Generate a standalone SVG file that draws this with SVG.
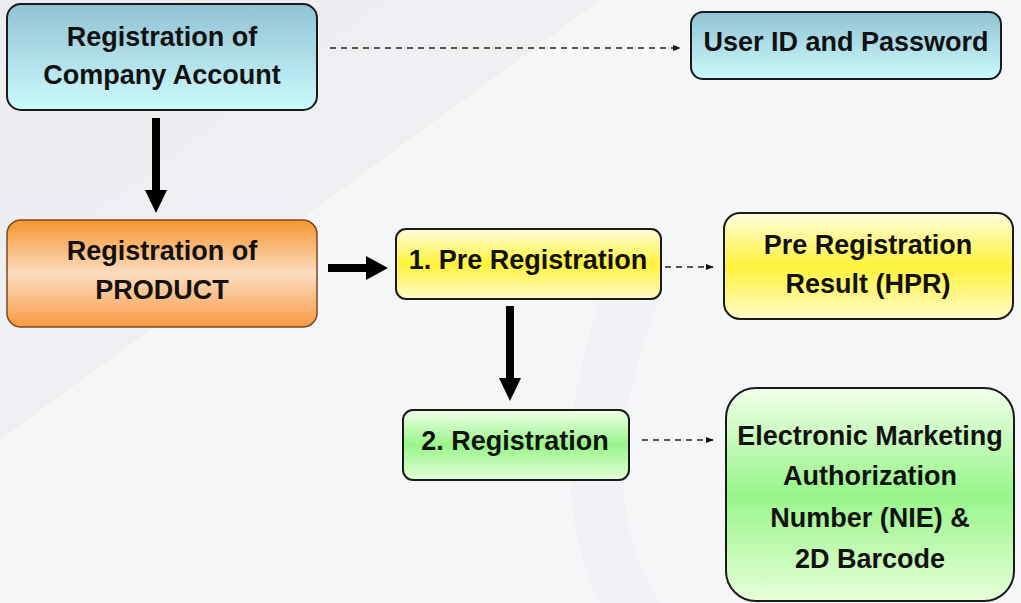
<svg xmlns="http://www.w3.org/2000/svg" width="1021" height="603" viewBox="0 0 1021 603">
<defs>
<linearGradient id="gBlue" x1="0" y1="0" x2="0" y2="1"><stop offset="0" stop-color="#92c2d4"/><stop offset="1" stop-color="#cbfafc"/></linearGradient>
<linearGradient id="gOrange" x1="0" y1="0" x2="0" y2="1"><stop offset="0" stop-color="#f6952e"/><stop offset="0.5" stop-color="#fbdcc0"/><stop offset="1" stop-color="#f89a40"/></linearGradient>
<linearGradient id="gYellow" x1="0" y1="0" x2="0" y2="1"><stop offset="0" stop-color="#fffde0"/><stop offset="0.5" stop-color="#fff23a"/><stop offset="1" stop-color="#fffbc8"/></linearGradient>
<linearGradient id="gGreen" x1="0" y1="0" x2="0" y2="1"><stop offset="0" stop-color="#f2ffea"/><stop offset="0.5" stop-color="#98f58a"/><stop offset="1" stop-color="#e6ffd8"/></linearGradient>
<linearGradient id="gBg" x1="0" y1="0" x2="1" y2="1"><stop offset="0" stop-color="#e2e4e7"/><stop offset="1" stop-color="#eef0f2"/></linearGradient>
<marker id="mDash" viewBox="0 0 10 10" refX="9" refY="5" markerWidth="8" markerHeight="8" markerUnits="userSpaceOnUse" orient="auto"><path d="M0,1 L10,5 L0,9 z" fill="#111"/></marker>
</defs>
<style>
.box{stroke:#1a1a1a;stroke-width:2}
.t{font-family:"Liberation Sans",Arial,sans-serif;font-weight:bold;font-size:27px;fill:#111;text-anchor:middle}
.dash{stroke:#222;stroke-width:1.6;stroke-dasharray:6 5;fill:none}
.thick{fill:#000}
</style>
<rect width="1021" height="603" fill="#f5f6f8"/>
<polygon points="0,0 600,0 0,440" fill="url(#gBg)" opacity="0.55"/>
<path d="M600,300 C560,420 560,520 600,603 L660,603 C610,520 610,420 660,300 z" fill="#eceef1" opacity="0.5"/>

<g id="connectors">
<line class="dash" x1="330" y1="48" x2="680" y2="48" marker-end="url(#mDash)"/>
<line class="dash" x1="665" y1="267" x2="713" y2="267" marker-end="url(#mDash)"/>
<line class="dash" x1="642" y1="440" x2="713" y2="440" marker-end="url(#mDash)"/>
<polygon class="thick" points="152,118 160,118 160,190 167,190 156,213 145,190 152,190"/>
<polygon class="thick" points="328,264 366,264 366,256 388,268 366,280 366,272 328,272"/>
<polygon class="thick" points="506,306 514,306 514,378 521,378 510,401 499,378 506,378"/>
</g>

<g id="node-company">
<rect class="box" x="7" y="4" width="310" height="106" rx="14" fill="url(#gBlue)"/>
<text class="t" x="162" y="46">Registration of</text>
<text class="t" x="162" y="84">Company Account</text>
</g>
<g id="node-userid">
<rect class="box" x="691" y="12" width="310" height="67" rx="12" fill="url(#gBlue)"/>
<text class="t" x="846" y="51">User ID and Password</text>
</g>
<g id="node-product">
<rect x="7" y="220" width="310" height="107" rx="14" fill="url(#gOrange)" stroke="#7a4a20" stroke-width="1.5"/>
<text class="t" x="162" y="260">Registration of</text>
<text class="t" x="162" y="299">PRODUCT</text>
</g>
<g id="node-prereg">
<rect class="box" x="396" y="229" width="265" height="70" rx="10" fill="url(#gYellow)"/>
<text class="t" x="528" y="269">1. Pre Registration</text>
</g>
<g id="node-hpr">
<rect class="box" x="724" y="213" width="289" height="106" rx="16" fill="url(#gYellow)"/>
<text class="t" x="868" y="254">Pre Registration</text>
<text class="t" x="868" y="293">Result (HPR)</text>
</g>
<g id="node-reg">
<rect class="box" x="403" y="410" width="226" height="70" rx="10" fill="url(#gGreen)"/>
<text class="t" x="515" y="450">2. Registration</text>
</g>
<g id="node-nie">
<rect class="box" x="726" y="388" width="288" height="213" rx="30" fill="url(#gGreen)"/>
<text class="t" x="870" y="445" font-size="26">Electronic Marketing</text>
<text class="t" x="870" y="485">Authorization</text>
<text class="t" x="870" y="527">Number (NIE) &amp;</text>
<text class="t" x="870" y="568">2D Barcode</text>
</g>
</svg>
